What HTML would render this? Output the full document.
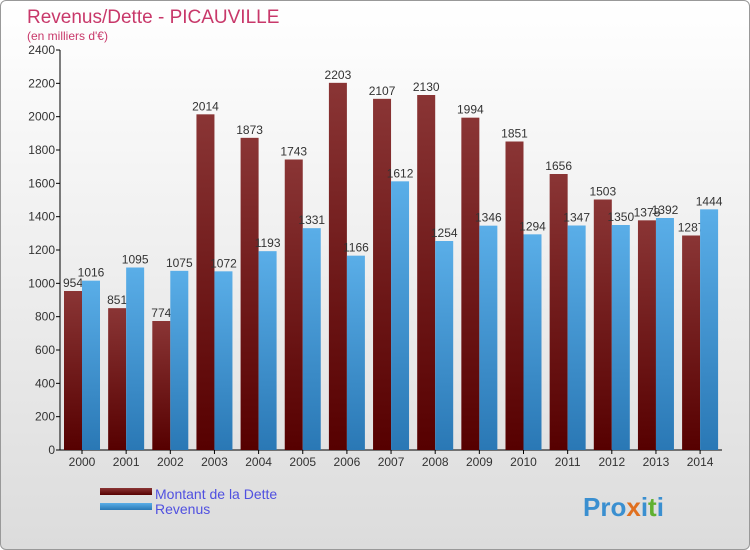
<!DOCTYPE html>
<html><head><meta charset="utf-8"><style>
body{margin:0;width:750px;height:550px;overflow:hidden;font-family:"Liberation Sans",sans-serif}
#wrap{position:absolute;left:0;top:0;width:748px;height:548px;border:1px solid #999;border-radius:6px;background:linear-gradient(#ffffff,#dcdcdc)}
</style></head><body>
<div id="wrap">
<svg id="chart" width="750" height="550" style="position:absolute;left:-1px;top:-1px">
<defs>
<linearGradient id="gd" x1="0" y1="0" x2="0" y2="1"><stop offset="0" stop-color="#8a3535"/><stop offset="1" stop-color="#560000"/></linearGradient>
<linearGradient id="gr" x1="0" y1="0" x2="0" y2="1"><stop offset="0" stop-color="#5aaee8"/><stop offset="1" stop-color="#2a78b5"/></linearGradient>
</defs>
<text x="27" y="23" font-size="19" fill="#c8386a">Revenus/Dette - PICAUVILLE</text>
<text x="27" y="40" font-size="12" fill="#c8386a">(en milliers d'€)</text>
<g id="g"></g>
<rect x="100" y="488" width="52" height="7" fill="url(#gd)"/>
<rect x="100" y="503" width="52" height="7" fill="url(#gr)"/>
<text x="155" y="499" font-size="14" fill="#5050e0">Montant de la Dette</text>
<text x="155" y="514" font-size="14" fill="#5050e0">Revenus</text>
<text x="583" y="516" font-size="26" font-weight="bold" fill="#3a8fd0">Pro<tspan fill="#e07020">x</tspan>i<tspan fill="#60b030">t</tspan>i</text>
</svg></div>
<script>
const years=[2000,2001,2002,2003,2004,2005,2006,2007,2008,2009,2010,2011,2012,2013,2014];
const dette=[954,851,774,2014,1873,1743,2203,2107,2130,1994,1851,1656,1503,1378,1287];
const revenus=[1016,1095,1075,1072,1193,1331,1166,1612,1254,1346,1294,1347,1350,1392,1444];
const yTicks=[0,200,400,600,800,1000,1200,1400,1600,1800,2000,2200,2400];
const NS="http://www.w3.org/2000/svg";
const g=document.getElementById('g');
const y=v=>450-v/2400*400;
const xc=i=>82+i*44.15;
function mk(t,a,p){const e=document.createElementNS(NS,t);for(const k in a)e.setAttribute(k,a[k]);(p||g).appendChild(e);return e;}
let ax=mk('line',{x1:60,y1:50,x2:60,y2:450,stroke:'#000'});


let bx=mk('line',{x1:60,y1:450,x2:722,y2:450,stroke:'#000'});


yTicks.forEach(v=>{
  let l=mk('line',{x1:56,y1:y(v),x2:60,y2:y(v),stroke:'#000'});
  
  
  let t=mk('text',{x:55,y:y(v)+4,'text-anchor':'end','font-size':12,fill:'#333'});
  t.textContent=v;
  
  
});
years.forEach((yr,i)=>{
  const c=xc(i);
  let t=mk('text',{x:c,y:466,'text-anchor':'middle','font-size':12,fill:'#333'});
  t.textContent=yr;
  
  
  let tk=mk('line',{x1:c,y1:450,x2:c,y2:454,stroke:'#000'});
  
  
  [[dette[i],c-18,'url(#gd)','bar-dette'],[revenus[i],c,'url(#gr)','bar-revenus']].forEach(([v,x,f,n])=>{
    let r=mk('rect',{x:x,y:y(v),width:18,height:450-y(v),fill:f});
    
    
    let l=mk('text',{x:x+9,y:y(v)-4,'text-anchor':'middle','font-size':12,fill:'#333'});
    l.textContent=v;
    
    
  });
});
</script>
</body></html>
